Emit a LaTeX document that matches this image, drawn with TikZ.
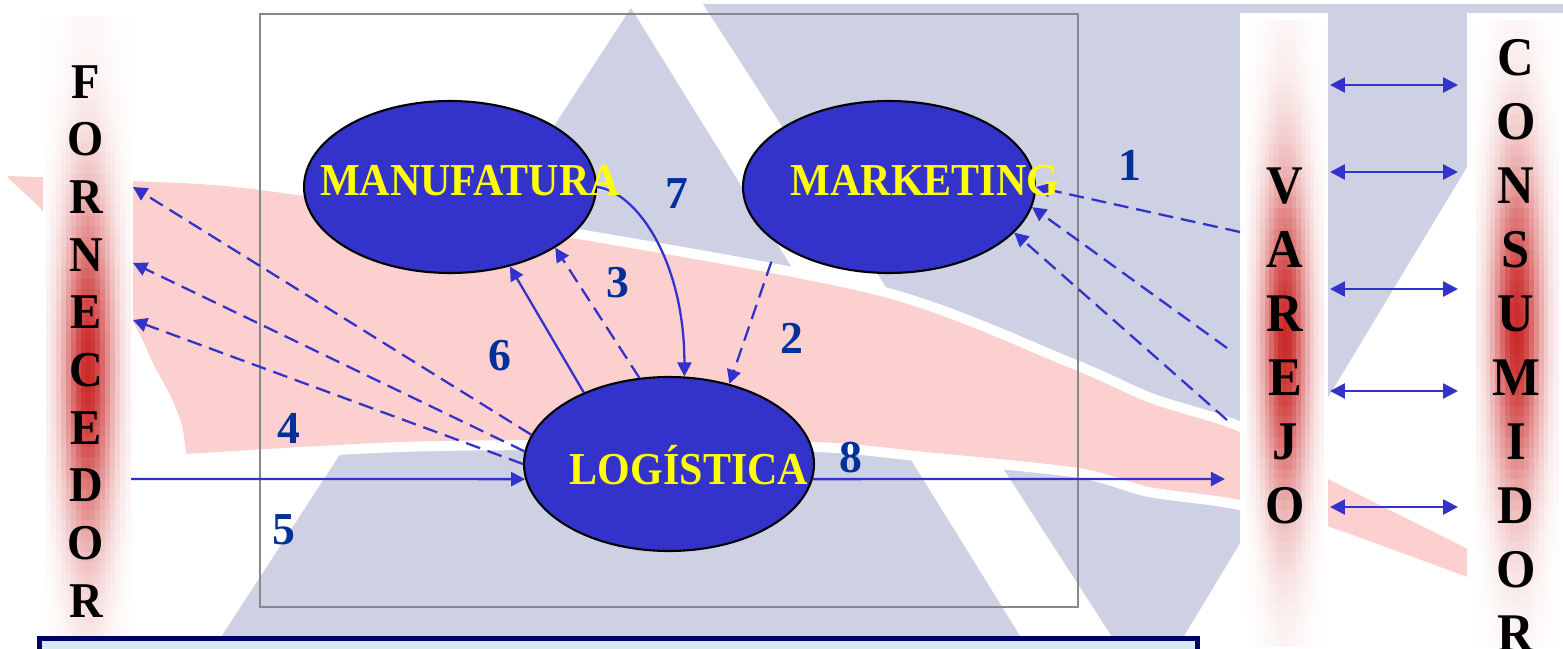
\documentclass[tikz,border=0pt]{standalone}
\usepackage{fontspec}
\setmainfont{Liberation Serif}
\usetikzlibrary{arrows.meta,shapes.geometric,calc}
\definecolor{lav}{RGB}{206,208,228}
\definecolor{pinkc}{RGB}{253,208,208}
\definecolor{stripred}{RGB}{200,28,28}
\definecolor{elblue}{RGB}{51,51,204}
\definecolor{arrblue}{RGB}{51,51,204}
\definecolor{numblue}{RGB}{0,48,153}
\definecolor{labyellow}{RGB}{255,255,0}
\definecolor{navyb}{RGB}{0,0,102}
\definecolor{boxfill}{RGB}{214,232,248}
\definecolor{framegray}{RGB}{136,136,136}
\newcommand\gradstrip[7]{%
  \pgfmathsetmacro{\hh}{(#4-#3)/60}%
  \pgfmathsetmacro{\ww}{(#2-#1)/17}%
  \foreach \i in {0,...,59}{%
    \pgfmathsetmacro{\ya}{#3+\hh*\i}%
    \pgfmathsetmacro{\yb}{\ya+\hh+0.8}%
    \pgfmathsetmacro{\dd}{(\ya+\hh/2-#5)/#6}%
    \pgfmathsetmacro{\ee}{\dd*\dd}%
    \pgfmathsetmacro{\kk}{min(100,2+#7/exp(\ee))}%
    \foreach \j in {0,...,16}{%
      \pgfmathsetmacro{\xa}{#1+\ww*\j}%
      \pgfmathsetmacro{\xb}{\xa+\ww+0.8}%
      \pgfmathsetmacro{\uu}{abs(\j+0.5-8.5)/8.5/0.6}%
      \pgfmathsetmacro{\cc}{\kk/exp(\uu*\uu)}%
      \fill[stripred!\cc!white] (\xa,\ya) rectangle (\xb,\yb);
    }%
  }}
\tikzset{
  proc/.style={ellipse, draw=black, line width=1.2pt, fill=elblue, inner sep=0pt},
  lab/.style={text=labyellow, font=\fontsize{26}{26}\selectfont\bfseries, anchor=base, inner sep=0pt},
  num/.style={text=numblue, font=\fontsize{26}{26}\selectfont\bfseries, anchor=base, inner sep=0pt},
  flow/.style={draw=arrblue, line width=1.3pt, -{Triangle[length=8pt,width=8pt]}},
  dflow/.style={flow, dash pattern=on 8.5pt off 4.5pt},
  dbl/.style={draw=arrblue, line width=1.5pt, {Triangle[length=8.5pt,width=8.5pt]}-{Triangle[length=8.5pt,width=8.5pt]}},
  letF/.style={font=\fontsize{28.5}{28.5}\selectfont\bfseries, anchor=base, inner sep=0pt},
  letV/.style={font=\fontsize{31}{31}\selectfont\bfseries, anchor=base, inner sep=0pt},
}
\begin{document}
\begin{tikzpicture}[x=0.02cm, y=-0.02cm]
\useasboundingbox (0,0) rectangle (1563,649);
\clip (0,0) rectangle (1563,649);
\fill[white] (0,0) rectangle (1563,649);
% background triangles
\fill[lav] (631,8) -- (1035,660) -- (206,660) -- cycle;
\fill[lav] (703,4) -- (1563,4) -- (1563,13) -- (1560,13) -- (1149,694) -- cycle;
% swoosh: white halo then pink
\path[fill=white, draw=white, line width=0.4cm, line join=round]
  plot[smooth, tension=0.5] coordinates {(8,176) (133,181) (260,190) (560,236) (880,296) (1070,368) (1150,403) (1240,432) (1330,480) (1470,550)}
  -- (1470,578)
  -- plot[smooth, tension=0.5] coordinates {(1470,578) (1330,527) (1240,500) (1150,487) (1079,468) (926,452) (816,442) (600,440) (400,442) (186,454)}
  -- plot[smooth, tension=0.5] coordinates {(186,454) (182,425) (171,397) (153,363) (133,322) (90,262) (40,208) (8,178)}
  -- cycle;
\path[fill=pinkc]
  plot[smooth, tension=0.5] coordinates {(8,176) (133,181) (260,190) (560,236) (880,296) (1070,368) (1150,403) (1240,432) (1330,480) (1470,550)}
  -- (1470,578)
  -- plot[smooth, tension=0.5] coordinates {(1470,578) (1330,527) (1240,500) (1150,487) (1079,468) (926,452) (816,442) (600,440) (400,442) (186,454)}
  -- plot[smooth, tension=0.5] coordinates {(186,454) (182,425) (171,397) (153,363) (133,322) (90,262) (40,208) (8,178)}
  -- cycle;
% strips
\fill[white] (43,14) rectangle (133,649);
\fill[white] (1240,13) rectangle (1328,649);
\fill[white] (1467,13) rectangle (1563,649);
\gradstrip{46}{130}{16}{646}{370}{170}{92}
\gradstrip{1247}{1323}{20}{646}{340}{165}{92}
\gradstrip{1476}{1558}{20}{646}{330}{165}{92}
% frame
\draw[framegray, line width=1.2pt] (260,14) rectangle (1078,607);
% processes
\node[proc, minimum width=5.84cm, minimum height=3.44cm] (man) at (450,187) {};
\node[proc, minimum width=5.84cm, minimum height=3.44cm] (mkt) at (889,187) {};
\node[proc, minimum width=5.80cm, minimum height=3.48cm] (log) at (669,464) {};
% free ends
\coordinate (f1) at (133,187);
\coordinate (f2) at (133,263);
\coordinate (f3) at (133,320);
\coordinate (f5) at (131,479);
\coordinate (v8) at (1225,479);
\coordinate (v1) at (1240,232);
\coordinate (v2) at (1227,348);
\coordinate (v3) at (1227,420);
% connectors
\draw[dflow] (log.168) -- (f1);
\draw[dflow] (log.175) -- (f2);
\draw[dflow] (log.180) -- (f3);
\draw[flow] (f5) -- (log.186);
\draw[flow] (log.354) -- (v8);
\draw[dflow] (v1) -- (mkt.0);
\draw[dflow] (v2) -- (mkt.352);
\draw[dflow] (v3) -- (mkt.340);
\draw[dflow, shorten <=10.8pt] (mkt.207) -- (log.53);
\draw[dflow] (log.109) -- (man.330);
\draw[flow] (log.140) -- (man.307);
\draw[flow] (man.0) .. controls ($(man.0)+(40,5)$) and ($(log.80)+(0,-115)$) .. (log.80);
\foreach \yy [count=\i] in {85,172,289,391,507}{
  \coordinate (dl\i) at (1330,\yy);
  \coordinate (dr\i) at (1458,\yy);
  \draw[dbl] (dl\i) -- (dr\i);
}
% labels
\node[lab] (tman) at (470,195) {\scalebox{0.92}[1]{MANUFATURA}};
\node[lab] (tmkt) at (925,195) {\scalebox{0.92}[1]{MARKETING}};
\node[lab] (tlog) at (689,484) {\scalebox{0.92}[1]{LOGÍSTICA}};
\node[num] (n1) at (1130,180) {1};
\node[num] (n2) at (792,353) {2};
\node[num] (n3) at (618,297) {3};
\node[num] (n4) at (289,443) {4};
\node[num] (n5) at (284,544) {5};
\node[num] (n6) at (500,370) {6};
\node[num] (n7) at (677,208) {7};
\node[num] (n8) at (851,472) {8};
% strip letters
\foreach \l [count=\i from 0] in {F,O,R,N,E,C,E,D,O,R}
  \node[letF] (forn\i) at (86,{98+57.7*\i}) {\scalebox{0.93}[1]{\l}};
\foreach \l [count=\i from 0] in {V,A,R,E,J,O}
  \node[letV] (var\i) at (1285,{203+64*\i}) {\scalebox{0.93}[1]{\l}};
\foreach \l [count=\i from 0] in {C,O,N,S,U,M,I,D,O,R}
  \node[letV] (con\i) at (1516,{75+64*\i}) {\scalebox{0.93}[1]{\l}};
% bottom box
\draw[navyb, line width=0.09cm, fill=boxfill] (39.5,638.5) rectangle (1197.5,700);
\end{tikzpicture}
\end{document}
